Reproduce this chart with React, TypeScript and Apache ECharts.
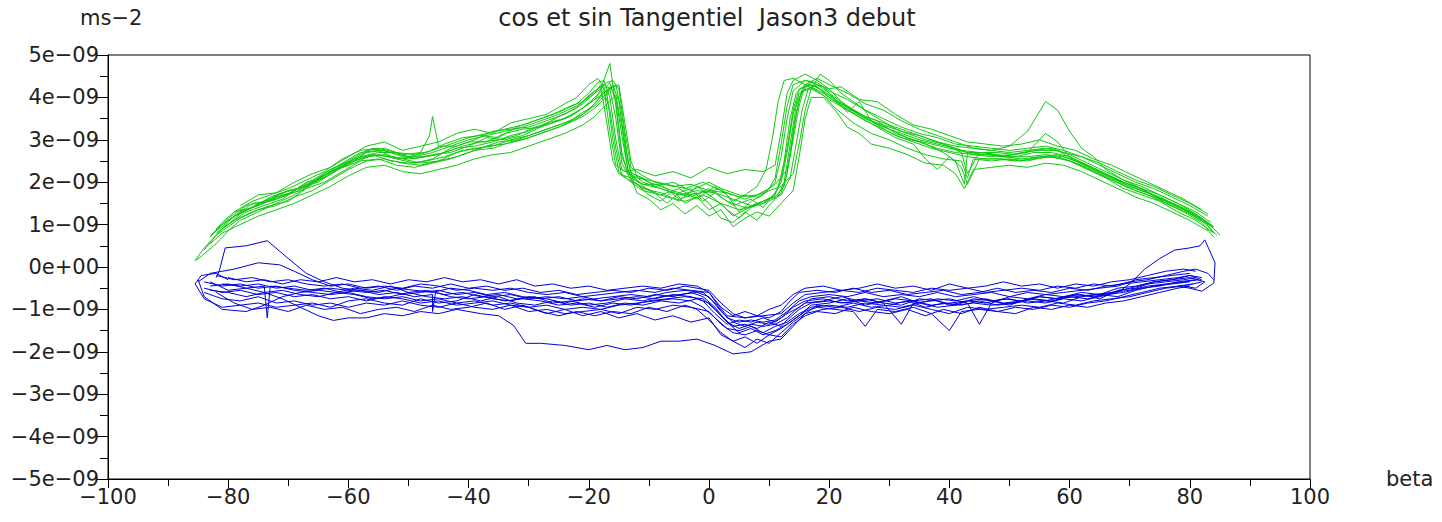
import React, { useEffect, useRef } from "react";
import * as echarts from "echarts";

// values in units of 1e-09 m/s^2, beta in degrees
const X_TICKS = [-100, -80, -60, -40, -20, 0, 20, 40, 60, 80, 100];
const Y_TICKS = [-5, -4, -3, -2, -1, 0, 1, 2, 3, 4, 5];
const TITLE = "cos et sin Tangentiel  Jason3 debut";
const Y_UNIT = "ms\u22122";
const X_NAME = "beta";

const g1 = [[-83,0.7],[-81,1.05],[-79,1.3],[-76,1.4],[-73,1.65],[-70,1.8],[-67,1.9],[-64,2.2],[-61,2.45],[-58,2.7],[-55,2.75],[-52,2.55],[-49,2.45],[-46,2.55],[-43,2.8],[-40,2.95],[-37,2.95],[-34,3.15],[-31,3.25],[-28,3.3],[-25,3.55],[-22,3.75],[-20,4.05],[-18,4.25],[-17,3.4],[-16,2.5],[-15,2.2],[-13,2.1],[-11,1.95],[-8,1.85],[-5,1.7],[-2,1.8],[1,1.75],[4,1.6],[7,1.45],[9,1.55],[11,1.7],[12,2.1],[13,2.8],[14,3.7],[15,4.2],[17,4.3],[19,4.15],[22,3.85],[25,3.6],[28,3.45],[31,3.15],[34,3.0],[37,2.9],[40,2.8],[43,2.7],[46,2.7],[49,2.6],[52,2.7],[55,2.75],[58,2.75],[61,2.5],[64,2.3],[67,2.1],[70,1.9],[73,1.75],[76,1.55],[79,1.35],[82,1.15],[84,0.8]];
const g2 = [[-80,1.05],[-82,0.75],[-84,0.45],[-85.5,0.15],[-84.5,0.25],[-82,0.55],[-80,0.85],[-78,1.1],[-75,1.3],[-72,1.5],[-69,1.7],[-66,1.95],[-63,2.2],[-60,2.45],[-57,2.6],[-54,2.65],[-51,2.55],[-48,2.45],[-45,2.5],[-42,2.7],[-39,2.8],[-36,2.85],[-33,3.0],[-30,3.1],[-27,3.25],[-24,3.4],[-21,3.6],[-19,3.85],[-17.5,4.1],[-16.5,4.25],[-15.5,4.0],[-14.5,3.1],[-13.5,2.3],[-11,2.0],[-9,1.9],[-6,1.75],[-3,1.65],[0,1.85],[3,1.55],[6,1.4],[9,1.5],[10.5,1.65],[11.5,1.85],[12.5,2.5],[13.5,3.5],[14.5,4.1],[16,4.3],[18,4.25],[20,4.0],[23,3.75],[26,3.5],[29,3.3],[32,3.15],[35,3.0],[38,2.9],[41,2.8],[44,2.65],[47,2.65],[50,2.6],[53,2.6],[56,2.65],[59,2.6],[62,2.45],[65,2.25],[68,2.05],[71,1.9],[74,1.7],[77,1.5],[80,1.3],[83,1.05],[85,0.75]];
const g3 = [[-82,0.85],[-80,1.15],[-77,1.45],[-74,1.55],[-71,1.75],[-68,1.85],[-65,2.1],[-62,2.3],[-59,2.55],[-56,2.8],[-53,2.7],[-50,2.6],[-47,2.7],[-44,2.9],[-41,3.05],[-38,3.1],[-35,3.05],[-32,3.3],[-29,3.45],[-26,3.6],[-23,3.8],[-21,3.9],[-19,4.15],[-17,4.35],[-16,4.4],[-15,4.2],[-14,3.2],[-13,2.35],[-11,2.15],[-9,2.0],[-6,1.9],[-3,1.95],[0,1.8],[3,1.75],[6,1.6],[9,1.75],[11,1.95],[13,2.3],[14,3.0],[15,3.8],[16,4.3],[18,4.45],[20,4.3],[23,4.1],[26,3.85],[29,3.7],[32,3.45],[35,3.25],[38,3.1],[41,2.95],[44,2.8],[47,2.75],[50,2.7],[53,2.75],[56,2.8],[59,2.7],[62,2.6],[65,2.4],[68,2.2],[71,2.0],[74,1.85],[77,1.65],[80,1.45],[83,1.2]];
const g4 = [[-81,0.9],[-79,1.1],[-76,1.3],[-73,1.45],[-70,1.55],[-67,1.85],[-64,2.0],[-61,2.25],[-58,2.5],[-55,2.55],[-52,2.4],[-49,2.35],[-46,2.45],[-43,2.55],[-40,2.7],[-37,2.85],[-34,2.9],[-31,3.0],[-28,3.15],[-25,3.3],[-22,3.5],[-20,3.7],[-18.5,3.95],[-17.5,4.15],[-16.5,3.7],[-15.5,2.8],[-14.5,2.15],[-12,1.95],[-10,1.7],[-8,1.55],[-6,1.8],[-4,1.5],[-2,1.65],[0,1.35],[2,1.5],[4,1.2],[6,1.35],[8,1.5],[10,1.6],[11.5,1.7],[12.5,2.0],[13.5,2.9],[14.5,3.8],[15.5,4.15],[17,4.2],[19,4.05],[21,3.75],[24,3.4],[27,3.15],[30,3.0],[33,2.8],[36,2.65],[39,2.55],[42,2.5],[43,2.1],[44,2.55],[47,2.5],[50,2.55],[53,2.5],[56,2.6],[59,2.55],[62,2.4],[65,2.2],[68,2.0],[71,1.8],[74,1.65],[77,1.45],[80,1.25],[83,1.0]];
const g5 = [[-82,0.8],[-80,1.0],[-78,1.25],[-75,1.5],[-72,1.6],[-69,1.8],[-66,2.05],[-63,2.3],[-60,2.5],[-57,2.75],[-54,2.8],[-51,2.65],[-48,2.7],[-46.5,3.1],[-46,3.55],[-45.5,3.2],[-45,2.85],[-42,2.85],[-39,3.0],[-36,3.2],[-33,3.25],[-30,3.3],[-27,3.45],[-24,3.6],[-21,3.85],[-19,4.1],[-18,4.3],[-17,4.1],[-16,3.0],[-15,2.25],[-13,2.0],[-11,1.8],[-8,1.7],[-5,1.85],[-2,1.6],[1,1.9],[3,1.7],[5,1.3],[7,1.55],[9,1.7],[11,2.0],[12,2.6],[13,3.5],[14,4.15],[16,4.4],[18,4.3],[20,4.1],[23,3.8],[26,3.55],[29,3.4],[32,3.2],[35,3.1],[38,2.95],[41,2.85],[44,2.8],[47,2.75],[50,2.85],[53,3.2],[56,3.9],[58,3.7],[60,3.2],[62,2.8],[64,2.6],[66,2.3],[69,2.05],[72,1.85],[75,1.7],[78,1.5],[81,1.25],[84,0.95]];
const g6 = [[-80,1.1],[-77,1.35],[-74,1.5],[-71,1.7],[-68,1.8],[-65,2.05],[-62,2.35],[-59,2.55],[-56,2.65],[-53,2.6],[-50,2.55],[-47,2.6],[-44,2.7],[-41,2.85],[-38,2.95],[-35,3.0],[-32,3.1],[-29,3.3],[-26,3.4],[-23,3.55],[-21,3.75],[-19,4.0],[-17.5,4.2],[-16.5,4.35],[-15.5,3.9],[-14.5,2.7],[-13.5,2.2],[-11,1.95],[-8,1.95],[-5,1.6],[-2,1.75],[0,1.5],[2,1.15],[4,1.05],[6,1.3],[8,1.1],[10,1.45],[12,1.75],[13,2.2],[14,3.2],[15,4.0],[16.5,4.3],[18,4.25],[21,3.95],[24,3.7],[27,3.45],[30,3.25],[33,3.05],[36,2.9],[39,2.7],[41,2.5],[42.5,1.95],[43,2.7],[46,2.65],[49,2.6],[52,2.55],[55,2.6],[58,2.65],[61,2.5],[64,2.3],[67,2.1],[70,1.9],[73,1.75],[76,1.55],[79,1.35],[82,1.1],[84.5,0.75]];
const g7 = [[-83,0.75],[-81,0.95],[-79,1.2],[-76,1.5],[-73,1.55],[-70,1.7],[-67,2.0],[-64,2.1],[-61,2.35],[-58,2.6],[-55,2.7],[-52,2.7],[-49,2.55],[-46,2.65],[-43,2.7],[-40,2.85],[-37,3.05],[-34,3.0],[-31,3.1],[-28,3.3],[-25,3.45],[-22,3.65],[-20,3.85],[-18,4.05],[-16.5,4.2],[-15,4.3],[-14,3.4],[-13,2.5],[-12,2.15],[-10,2.0],[-7,1.85],[-4,1.7],[-1,1.75],[2,1.85],[5,1.7],[8,1.65],[10,1.8],[12,1.9],[14,2.2],[15,2.9],[16,3.7],[17,4.2],[18.5,4.55],[20,4.4],[22,4.1],[24,3.9],[27,3.6],[30,3.35],[33,3.2],[36,3.05],[39,2.9],[42,2.75],[45,2.7],[48,2.7],[51,2.65],[54,2.75],[57,2.8],[60,2.65],[63,2.45],[66,2.25],[69,2.05],[72,1.9],[75,1.7],[78,1.5],[81,1.3],[83.5,1.05]];
const g8 = [[-82,0.9],[-79,1.2],[-76,1.4],[-73,1.6],[-70,1.8],[-67,1.9],[-64,2.15],[-61,2.4],[-58,2.55],[-55,2.65],[-52,2.55],[-49,2.6],[-46,2.7],[-43,2.85],[-40,3.0],[-37,3.1],[-34,3.2],[-31,3.3],[-28,3.45],[-25,3.6],[-22,3.8],[-20,4.0],[-18,4.2],[-16.5,4.8],[-15.5,3.8],[-14.5,2.6],[-13.5,2.25],[-11,2.1],[-9,1.9],[-6,2.0],[-3,1.8],[0,2.0],[2,1.85],[4,1.55],[6,1.7],[8,1.9],[9.5,2.3],[10.5,3.0],[11.5,3.9],[12.5,4.4],[14,4.45],[16,4.3],[18,4.15],[20,3.95],[23,3.7],[26,3.45],[29,3.25],[32,3.05],[35,2.95],[38,2.8],[41,2.7],[44,2.65],[47,2.6],[50,2.65],[53,2.7],[56,3.15],[58,2.95],[60,2.6],[63,2.4],[66,2.2],[69,2.0],[72,1.8],[75,1.65],[78,1.45],[81,1.25],[84,0.9]];
const g9 = [[-81,1.0],[-78,1.3],[-75,1.45],[-72,1.65],[-69,1.75],[-66,2.0],[-63,2.25],[-60,2.4],[-57,2.7],[-54,2.75],[-51,2.6],[-48,2.6],[-45,2.65],[-42,2.8],[-39,2.85],[-36,2.95],[-33,3.1],[-30,3.2],[-27,3.4],[-24,3.5],[-21,3.75],[-19,3.95],[-17.5,4.3],[-16.5,4.2],[-15.5,3.5],[-14.5,2.45],[-13,2.05],[-11,1.85],[-8,1.75],[-5,1.55],[-2,1.9],[1,1.6],[3,1.35],[5,1.15],[7,1.4],[9,1.55],[11,1.65],[12.5,1.9],[13.5,2.6],[14.5,3.6],[15.5,4.2],[17,4.35],[19,4.25],[21,3.95],[23,3.65],[25,3.9],[27,3.45],[30,3.3],[33,3.15],[36,3.0],[39,2.9],[42,2.7],[43,2.2],[45,2.7],[48,2.65],[51,2.6],[54,2.7],[57,2.7],[60,2.6],[63,2.4],[66,2.2],[69,2.0],[72,1.85],[75,1.6],[78,1.45],[81,1.2],[84,0.95]];
const g10 = [[-80,1.0],[-77,1.3],[-74,1.45],[-71,1.6],[-68,1.9],[-65,2.0],[-62,2.3],[-59,2.45],[-56,2.65],[-53,2.5],[-50,2.45],[-47,2.5],[-44,2.6],[-41,2.75],[-38,2.8],[-35,2.95],[-32,3.0],[-29,3.15],[-26,3.3],[-23,3.45],[-21,3.65],[-19,3.8],[-17,4.1],[-16,4.3],[-15,3.9],[-14,2.9],[-13,2.2],[-11,1.9],[-9,1.75],[-7,1.5],[-5,1.75],[-3,1.85],[-1,1.55],[1,1.75],[4,1.45],[7,1.6],[9,1.4],[11,1.75],[12,2.0],[13,2.7],[14,3.6],[15,4.1],[17,4.25],[19,4.1],[22,3.8],[25,3.55],[28,3.3],[31,3.05],[34,2.9],[36,2.55],[38,2.3],[40,2.6],[42,2.35],[43,1.95],[45,2.55],[48,2.55],[51,2.5],[54,2.55],[57,2.6],[60,2.5],[63,2.3],[66,2.1],[69,1.85],[72,1.7],[75,1.55],[78,1.3],[81,1.1],[84,0.8]];
const g11 = [[-79,1.3],[-76,1.55],[-73,1.7],[-70,1.85],[-67,2.05],[-64,2.25],[-61,2.55],[-58,2.75],[-55,2.8],[-52,2.7],[-49,2.65],[-46,2.75],[-43,2.9],[-40,3.05],[-37,3.15],[-34,3.25],[-31,3.35],[-28,3.5],[-25,3.65],[-22,3.85],[-20,4.1],[-18.5,4.35],[-17.5,4.4],[-16.5,4.0],[-15.5,3.0],[-14.5,2.3],[-12,2.1],[-10,2.05],[-7,1.95],[-4,1.85],[-1,2.0],[2,1.8],[5,1.65],[8,1.7],[10,1.85],[11,2.1],[12,2.9],[13,3.8],[14,4.3],[16,4.4],[18,4.35],[20,4.15],[23,3.95],[26,3.7],[29,3.5],[32,3.3],[35,3.15],[38,3.05],[41,2.9],[44,2.85],[47,2.8],[50,2.75],[53,2.8],[56,2.85],[59,2.75],[62,2.6],[65,2.45],[68,2.25],[71,2.05],[74,1.9],[77,1.7],[80,1.5],[83,1.25]];
const g12 = [[-84,0.4],[-82,0.75],[-80,0.95],[-78,1.15],[-75,1.35],[-72,1.45],[-69,1.65],[-66,1.8],[-63,2.05],[-60,2.3],[-57,2.5],[-54,2.55],[-51,2.45],[-48,2.4],[-45,2.5],[-42,2.6],[-39,2.75],[-36,2.8],[-33,2.95],[-30,3.05],[-27,3.2],[-24,3.35],[-21,3.55],[-19,3.75],[-17.5,3.95],[-16.5,4.2],[-15.5,4.3],[-14.5,3.6],[-13.5,2.5],[-12.5,2.0],[-10,1.8],[-7,1.65],[-4,1.55],[-1,1.7],[2,1.5],[5,1.35],[8,1.45],[10,1.55],[12,1.7],[13.5,2.1],[14.5,2.9],[15.5,3.7],[16.5,4.2],[18,4.3],[20,4.2],[22,3.9],[25,3.6],[28,3.35],[31,3.1],[34,2.95],[37,2.8],[40,2.7],[43,2.6],[46,2.55],[49,2.55],[52,2.5],[55,2.6],[58,2.6],[61,2.45],[64,2.25],[67,2.05],[70,1.85],[73,1.7],[76,1.5],[79,1.3],[82,1.05],[84,0.7]];
const g13 = [[-78,1.45],[-75,1.7],[-72,1.75],[-69,2.0],[-66,2.2],[-63,2.35],[-60,2.6],[-57,2.85],[-54,2.95],[-51,2.75],[-48,2.85],[-45,2.95],[-42,3.15],[-39,3.25],[-36,3.15],[-33,3.4],[-30,3.5],[-27,3.6],[-24,3.85],[-22,4.0],[-20,4.3],[-18.5,4.45],[-17.5,4.25],[-16.5,3.2],[-15.5,2.4],[-14,2.25],[-12,2.3],[-9,2.15],[-6,2.25],[-3,2.1],[0,2.35],[3,2.2],[6,2.3],[9,2.25],[11,2.4],[12,3.2],[13,4.1],[14,4.4],[16,4.55],[18,4.4],[20,4.2],[22,4.25],[25,3.95],[28,3.9],[31,3.6],[34,3.35],[37,3.25],[40,3.1],[43,2.95],[46,2.9],[49,2.85],[52,2.9],[55,3.0],[58,2.85],[61,2.75],[64,2.55],[67,2.4],[70,2.2],[73,2.0],[76,1.8],[79,1.6],[82,1.35]];
const g14 = [[-83,0.55],[-81,0.8],[-78,1.0],[-75,1.2],[-72,1.35],[-69,1.5],[-66,1.7],[-63,1.9],[-60,2.15],[-57,2.35],[-54,2.4],[-51,2.25],[-48,2.2],[-45,2.3],[-42,2.4],[-39,2.55],[-36,2.65],[-33,2.7],[-30,2.85],[-27,3.0],[-24,3.15],[-21,3.35],[-19,3.55],[-17,3.85],[-15.5,4.05],[-14.5,3.3],[-13.5,2.3],[-12,1.75],[-10,1.6],[-8,1.35],[-6,1.5],[-4,1.25],[-2,1.45],[0,1.2],[2,1.35],[4,0.95],[6,1.15],[8,1.3],[10,1.2],[12,1.5],[14,1.8],[15,2.6],[16,3.5],[17,4.0],[19,4.0],[21,3.7],[23,3.3],[25,3.15],[27,2.9],[30,2.8],[33,2.65],[36,2.45],[39,2.4],[41,2.2],[42.5,1.85],[44,2.3],[47,2.35],[50,2.4],[53,2.35],[56,2.45],[59,2.4],[62,2.25],[65,2.05],[68,1.85],[71,1.65],[74,1.5],[77,1.3],[80,1.1],[83,0.85]];

const b1 = [[-85,-0.3],[-84,-0.7],[-81,-1.0],[-77,-1.05],[-74,-0.9],[-71,-0.7],[-68,-0.6],[-65,-0.55],[-62,-0.6],[-59,-0.5],[-56,-0.55],[-53,-0.45],[-50,-0.6],[-47,-0.55],[-44,-0.65],[-41,-0.6],[-38,-0.7],[-35,-0.65],[-32,-0.75],[-29,-0.7],[-26,-0.85],[-23,-0.8],[-20,-0.9],[-17,-0.85],[-14,-0.75],[-11,-0.8],[-8,-0.7],[-5,-0.65],[-2,-0.6],[0,-0.7],[2,-1.05],[4,-1.3],[6,-1.4],[8,-1.3],[10,-1.35],[12,-1.2],[14,-0.95],[16,-0.8],[19,-0.75],[22,-0.85],[25,-0.8],[28,-0.75],[31,-0.85],[34,-0.8],[37,-0.9],[40,-0.85],[43,-0.8],[46,-0.75],[49,-0.85],[52,-0.8],[55,-0.7],[58,-0.75],[61,-0.7],[64,-0.65],[67,-0.6],[70,-0.5],[73,-0.4],[76,-0.35],[79,-0.3],[81,-0.25]];
const b2 = [[-82,-0.25],[-81.5,-0.1],[-80.5,0.45],[-77,0.5],[-73.5,0.62],[-70,0.2],[-67,-0.15],[-64,-0.35],[-61,-0.5],[-58,-0.55],[-55,-0.6],[-52,-0.5],[-49,-0.55],[-46,-0.6],[-43,-0.5],[-40,-0.55],[-37,-0.65],[-34,-0.6],[-31,-0.7],[-28,-0.75],[-25,-0.7],[-22,-0.8],[-19,-0.75],[-16,-0.7],[-13,-0.65],[-10,-0.7],[-7,-0.6],[-4,-0.55],[-1,-0.6],[1,-0.85],[3,-1.2],[5,-1.3],[7,-1.25],[9,-1.3],[11,-1.25],[13,-1.05],[15,-0.8],[17,-0.7],[20,-0.65],[23,-0.7],[26,-0.6],[29,-0.7],[32,-0.65],[35,-0.7],[38,-0.6],[41,-0.7],[44,-0.65],[47,-0.6],[50,-0.7],[53,-0.6],[56,-0.65],[59,-0.6],[62,-0.55],[65,-0.5],[68,-0.45],[71,-0.3],[74,-0.25],[77,-0.2],[80,-0.15]];
const b3 = [[-83,-0.35],[-80,-0.55],[-77,-0.5],[-74,-0.6],[-71,-0.75],[-68,-0.95],[-65,-1.15],[-62.5,-1.26],[-60,-1.2],[-57,-1.2],[-54,-1.1],[-51,-1.15],[-48,-1.05],[-45,-1.1],[-42,-1.0],[-38,-1.1],[-35,-1.15],[-32.5,-1.38],[-30.5,-1.8],[-28,-1.8],[-24,-1.85],[-20,-1.95],[-17,-1.85],[-14,-1.95],[-11,-1.9],[-8,-1.75],[-5,-1.75],[-2,-1.7],[1,-1.85],[4,-2.05],[7,-2.0],[10,-1.75],[12,-1.7],[14,-1.4],[16,-1.1],[19,-1.0],[22,-0.95],[25,-1.05],[28,-0.95],[31,-1.0],[34,-0.9],[37,-1.0],[40,-1.1],[43,-0.95],[46,-1.0],[49,-0.95],[52,-0.9],[55,-0.95],[58,-0.85],[61,-0.9],[64,-0.8],[67,-0.75],[70,-0.7],[73,-0.6],[76,-0.5],[79,-0.45],[82,-0.35]];
const b4 = [[-84,-0.5],[-81,-0.6],[-78,-0.55],[-75,-0.65],[-72,-0.6],[-69,-0.7],[-66,-0.65],[-63,-0.75],[-60,-0.7],[-57,-0.8],[-54,-0.7],[-51,-0.75],[-48,-0.85],[-45,-0.8],[-42,-0.9],[-39,-0.85],[-36,-0.8],[-33,-0.9],[-30,-0.95],[-27,-0.9],[-24,-1.0],[-21,-0.95],[-18,-1.0],[-15,-0.9],[-12,-0.85],[-9,-0.8],[-6,-0.75],[-3,-0.8],[-1,-0.95],[1,-1.2],[3,-1.45],[5,-1.5],[7,-1.4],[9,-1.55],[11,-1.4],[13,-1.3],[15,-1.1],[17,-0.95],[20,-0.9],[23,-0.95],[26,-0.85],[29,-0.9],[32,-0.95],[35,-0.85],[38,-0.95],[41,-0.9],[44,-0.85],[47,-0.9],[50,-0.85],[53,-0.8],[56,-0.85],[59,-0.75],[62,-0.8],[65,-0.7],[68,-0.6],[70,-0.4],[72.5,-0.05],[75,0.2],[77.5,0.4],[80,0.45],[81.7,0.5],[82.5,0.64],[84.2,0.1],[84,-0.38],[82,-0.57],[80,-0.5],[78,-0.45]];
const b5 = [[-85,-0.35],[-83,-0.15],[-79,-0.05],[-75,0.1],[-71.4,0.05],[-69,-0.1],[-66,-0.3],[-63,-0.45],[-60,-0.4],[-57,-0.5],[-54,-0.45],[-51,-0.5],[-48,-0.4],[-45,-0.45],[-42,-0.55],[-39,-0.5],[-36,-0.55],[-33,-0.5],[-30,-0.6],[-27,-0.65],[-24,-0.6],[-21,-0.7],[-18,-0.65],[-15,-0.6],[-12,-0.55],[-9,-0.6],[-6,-0.5],[-3,-0.55],[0,-0.6],[1.5,-0.9],[3,-1.15],[6,-1.2],[9,-1.15],[12,-1.1],[14,-0.85],[16,-0.65],[19,-0.6],[22,-0.55],[25,-0.6],[28,-0.5],[31,-0.55],[34,-0.6],[37,-0.5],[40,-0.55],[43,-0.5],[46,-0.6],[49,-0.55],[52,-0.5],[55,-0.55],[58,-0.45],[61,-0.5],[64,-0.4],[67,-0.45],[70,-0.35],[73,-0.3],[76,-0.2],[79,-0.1],[81,-0.05],[83,-0.15],[84,-0.3]];
const b6 = [[-83,-0.45],[-80,-0.4],[-77,-0.5],[-74,-0.45],[-73.5,-1.2],[-73,-0.45],[-70,-0.5],[-67,-0.55],[-64,-0.5],[-61,-0.6],[-58,-0.55],[-55,-0.65],[-52,-0.6],[-49,-0.7],[-46,-0.65],[-46,-1.05],[-45.5,-0.6],[-43,-0.7],[-40,-0.75],[-37,-0.7],[-34,-0.8],[-31,-0.75],[-28,-0.8],[-25,-0.9],[-22,-0.85],[-19,-0.95],[-16,-0.85],[-13,-0.9],[-10,-0.8],[-7,-0.75],[-4,-0.7],[-1,-0.75],[1,-1.0],[3,-1.3],[5,-1.45],[7,-1.35],[9,-1.4],[11,-1.35],[13,-1.2],[14.5,-1.0],[16,-0.85],[19,-0.8],[22,-0.7],[25,-0.8],[28,-0.85],[31,-0.75],[34,-0.8],[37,-0.75],[40,-0.9],[43,-0.8],[46,-0.85],[49,-0.75],[52,-0.8],[55,-0.7],[58,-0.75],[61,-0.65],[64,-0.7],[67,-0.6],[70,-0.55],[73,-0.45],[76,-0.4],[79,-0.35],[81.5,-0.3]];
const b7 = [[-84,-0.6],[-81,-0.75],[-78,-0.8],[-75,-0.7],[-72,-0.85],[-69,-0.8],[-66,-0.9],[-63,-0.85],[-60,-0.95],[-57,-0.85],[-54,-0.9],[-51,-0.8],[-48,-0.9],[-45,-0.95],[-42,-0.85],[-39,-0.95],[-36,-1.0],[-33,-0.9],[-30,-1.05],[-27,-1.0],[-24,-1.1],[-21,-1.05],[-18,-1.0],[-15,-1.1],[-12,-0.95],[-9,-1.0],[-6,-0.9],[-3,-0.95],[0,-1.05],[2,-1.35],[4,-1.55],[6,-1.6],[8,-1.5],[10,-1.6],[12,-1.45],[14,-1.25],[16,-1.05],[18,-0.95],[21,-1.0],[24,-1.05],[26,-1.4],[28,-1.0],[31,-1.05],[34,-0.95],[37,-1.1],[40,-1.5],[42,-1.05],[45,-1.0],[48,-1.05],[51,-0.95],[54,-1.0],[57,-0.9],[60,-0.95],[63,-0.85],[66,-0.8],[69,-0.7],[72,-0.6],[75,-0.5],[78,-0.45],[80.5,-0.4]];
const b8 = [[-82,-0.2],[-79,-0.3],[-76,-0.25],[-73,-0.35],[-70,-0.3],[-67,-0.4],[-64,-0.45],[-61,-0.4],[-58,-0.5],[-55,-0.45],[-52,-0.55],[-49,-0.45],[-46,-0.5],[-43,-0.4],[-40,-0.5],[-37,-0.45],[-34,-0.55],[-31,-0.5],[-28,-0.6],[-25,-0.55],[-22,-0.65],[-19,-0.6],[-16,-0.55],[-13,-0.6],[-10,-0.5],[-7,-0.55],[-4,-0.45],[-2,-0.5],[0,-0.55],[2,-0.85],[4,-1.1],[6,-1.2],[8,-1.15],[10,-1.2],[12,-1.05],[13.5,-0.8],[15,-0.6],[18,-0.55],[21,-0.6],[24,-0.5],[27,-0.6],[30,-0.55],[33,-0.65],[36,-0.6],[39,-0.55],[42,-0.65],[45,-0.6],[48,-0.5],[51,-0.6],[54,-0.55],[57,-0.6],[60,-0.5],[63,-0.55],[66,-0.45],[69,-0.4],[72,-0.35],[75,-0.3],[78,-0.25],[80,-0.2],[82,-0.3]];
const b9 = [[-80,-0.3],[-82,-0.15],[-84.5,-0.2],[-85.5,-0.4],[-84,-0.75],[-81,-0.95],[-78,-0.9],[-75,-0.85],[-72,-0.95],[-69,-0.9],[-66,-0.85],[-63,-0.95],[-60,-0.8],[-57,-0.75],[-54,-0.85],[-51,-0.9],[-48,-0.75],[-45,-0.85],[-42,-0.8],[-39,-0.65],[-36,-0.75],[-33,-0.8],[-30,-0.7],[-27,-0.75],[-24,-0.85],[-21,-0.75],[-18,-0.8],[-15,-0.7],[-12,-0.75],[-9,-0.65],[-6,-0.7],[-3,-0.6],[-1,-0.7],[1,-0.95],[3,-1.3],[5,-1.55],[7,-1.45],[9,-1.6],[11,-1.5],[13,-1.35],[15,-1.15],[17,-0.9],[20,-0.85],[23,-0.75],[26,-0.9],[29,-0.8],[32,-0.7],[35,-0.85],[38,-0.75],[41,-0.8],[44,-0.7],[47,-0.8],[50,-0.75],[53,-0.85],[56,-0.8],[59,-0.7],[62,-0.65],[65,-0.75],[68,-0.55],[71,-0.5],[74,-0.35],[77,-0.3],[80,-0.25],[82.5,-0.35],[81,-0.5],[79,-0.45]];
const b10 = [[-83,-0.55],[-80,-0.6],[-77,-0.7],[-74,-0.6],[-71,-0.55],[-68,-0.65],[-65,-0.7],[-62,-0.6],[-59,-0.65],[-56,-0.75],[-53,-0.7],[-50,-0.6],[-47,-0.7],[-44,-0.75],[-41,-0.7],[-38,-0.8],[-35,-0.7],[-32,-0.85],[-29,-0.9],[-26,-0.8],[-23,-0.9],[-20,-0.85],[-17,-0.95],[-14,-0.85],[-11,-0.9],[-8,-0.8],[-5,-0.85],[-2,-0.75],[0,-0.85],[2,-1.15],[4,-1.4],[6,-1.35],[8,-1.45],[10,-1.3],[12,-1.4],[13,-1.25],[15,-1.0],[17,-0.85],[20,-0.8],[23,-0.85],[26,-0.75],[29,-0.85],[32,-0.9],[35,-0.75],[38,-0.8],[41,-0.9],[44,-0.75],[47,-0.8],[50,-0.9],[53,-0.75],[56,-0.8],[59,-0.85],[62,-0.7],[65,-0.65],[68,-0.7],[71,-0.55],[74,-0.45],[77,-0.4],[80,-0.35]];
const b11 = [[-81,-0.4],[-78,-0.45],[-75,-0.4],[-72,-0.5],[-69,-0.45],[-66,-0.55],[-63,-0.5],[-60,-0.55],[-57,-0.6],[-54,-0.55],[-51,-0.65],[-48,-0.6],[-45,-0.55],[-42,-0.65],[-39,-0.6],[-36,-0.7],[-33,-0.65],[-30,-0.75],[-27,-0.7],[-24,-0.75],[-21,-0.7],[-18,-0.8],[-15,-0.75],[-12,-0.7],[-9,-0.75],[-6,-0.65],[-3,-0.7],[-1,-0.8],[1,-1.1],[3,-1.35],[5,-1.25],[7,-1.3],[9,-1.2],[11,-1.3],[13,-1.1],[15,-0.95],[17,-0.75],[20,-0.7],[23,-0.8],[26,-0.75],[29,-0.85],[32,-1.35],[34,-0.85],[37,-0.8],[40,-0.75],[43,-0.85],[45,-1.35],[47,-0.85],[50,-0.7],[53,-0.75],[56,-0.65],[59,-0.7],[62,-0.6],[65,-0.65],[68,-0.5],[71,-0.45],[74,-0.35],[77,-0.3],[80,-0.2],[82,-0.25]];
const b12 = [[-84,-0.35],[-81,-0.45],[-78,-0.4],[-75,-0.5],[-72,-0.45],[-69,-0.55],[-66,-0.6],[-63,-0.65],[-60,-0.6],[-57,-0.7],[-54,-0.75],[-51,-0.7],[-48,-0.8],[-45,-0.75],[-42,-0.85],[-39,-0.8],[-36,-0.9],[-33,-0.85],[-30,-0.95],[-27,-1.1],[-24,-1.0],[-21,-1.15],[-18,-1.05],[-15,-1.2],[-12,-1.1],[-9,-1.25],[-6,-1.15],[-3,-1.3],[0,-1.2],[2,-1.6],[4,-1.75],[6,-1.9],[8,-1.7],[10,-1.8],[12,-1.55],[14,-1.3],[16,-1.1],[18,-0.9],[21,-0.95],[24,-0.85],[27,-0.95],[30,-0.9],[33,-0.8],[36,-0.95],[39,-0.85],[42,-0.9],[45,-0.8],[48,-0.9],[51,-0.85],[54,-0.75],[57,-0.8],[60,-0.7],[63,-0.75],[66,-0.65],[69,-0.6],[72,-0.5],[75,-0.45],[78,-0.35],[81,-0.3]];
const b13 = [[-80,-0.25],[-77,-0.35],[-74,-0.3],[-71,-0.4],[-68,-0.3],[-65,-0.35],[-62,-0.25],[-59,-0.35],[-56,-0.3],[-53,-0.4],[-50,-0.3],[-47,-0.35],[-44,-0.25],[-41,-0.35],[-38,-0.3],[-35,-0.4],[-32,-0.3],[-29,-0.45],[-26,-0.4],[-23,-0.5],[-20,-0.45],[-17,-0.55],[-14,-0.5],[-11,-0.45],[-8,-0.5],[-5,-0.4],[-2,-0.45],[0,-0.6],[2,-0.95],[4,-1.15],[6,-1.05],[8,-1.15],[10,-1.0],[12,-0.9],[14,-0.65],[16,-0.5],[19,-0.45],[22,-0.55],[25,-0.5],[28,-0.4],[31,-0.5],[34,-0.45],[37,-0.55],[40,-0.4],[43,-0.5],[46,-0.45],[49,-0.35],[52,-0.45],[55,-0.4],[58,-0.5],[61,-0.4],[64,-0.45],[67,-0.35],[70,-0.3],[73,-0.2],[76,-0.1],[79,-0.05],[81,-0.1]];
const b14 = [[-82,-0.6],[-79,-0.85],[-76,-1.0],[-73,-0.95],[-70,-1.05],[-67,-0.9],[-64,-1.0],[-61,-0.95],[-58,-1.1],[-55,-1.0],[-52,-0.95],[-49,-1.05],[-46,-0.9],[-43,-1.0],[-40,-0.95],[-37,-0.85],[-34,-1.0],[-31,-0.9],[-28,-1.05],[-25,-1.15],[-22,-1.05],[-19,-1.15],[-16,-1.05],[-13,-1.1],[-10,-0.95],[-7,-1.05],[-4,-0.9],[-2,-1.0],[0,-1.25],[2,-1.55],[4,-1.75],[6,-1.65],[8,-1.8],[10,-1.6],[12,-1.65],[14,-1.35],[16,-1.15],[18,-1.05],[21,-1.1],[24,-0.95],[27,-1.05],[30,-1.1],[33,-1.0],[36,-1.15],[39,-1.0],[42,-1.1],[45,-0.95],[48,-1.05],[51,-1.1],[54,-0.95],[57,-1.0],[60,-0.9],[63,-0.95],[66,-0.85],[69,-0.8],[72,-0.7],[75,-0.6],[78,-0.5],[80,-0.45]];

const GREEN_CURVES = [g1, g2, g3, g4, g5, g6, g7, g8, g9, g10, g11, g12, g13, g14];
const BLUE_CURVES = [b1, b2, b3, b4, b5, b6, b7, b8, b9, b10, b11, b12, b13, b14];

const GREEN = "#10c810";
const BLUE = "#0000dc";
const FONT = "DejaVu Sans, Verdana, sans-serif";
const MINUS = "\u2212";
const TEXT_COLOR = "#222";

function fmtX(v: number) {
  return String(v).replace("-", MINUS);
}
function fmtY(v: number) {
  if (v === 0) return "0e+00";
  return (String(v) + "e-09").split("-").join(MINUS);
}

export default function App() {
  const ref = useRef<HTMLDivElement>(null);
  useEffect(() => {
    if (!ref.current) return;
    const chart = echarts.init(ref.current, undefined, { renderer: "svg" });
    const mk = (c: number[][], color: string, i: number, p: string) => ({
      name: p + (i + 1),
      type: "line",
      data: c,
      showSymbol: false,
      symbol: "none",
      lineStyle: { color, width: 1 },
      itemStyle: { color },
      z: p === "g" ? 3 : 2,
    });
    chart.setOption({
      animation: false,
      backgroundColor: "#ffffff",
      graphic: [
        {
          type: "text",
          x: 707,
          y: 18,
          style: {
            text: TITLE,
            fill: TEXT_COLOR,
            font: "24px " + FONT,
            textAlign: "center",
            textVerticalAlign: "middle",
          },
        },
        {
          type: "text",
          x: 80,
          y: 18,
          style: {
            text: Y_UNIT,
            fill: TEXT_COLOR,
            font: "21px " + FONT,
            textAlign: "left",
            textVerticalAlign: "middle",
          },
        },
      ],
      grid: {
        left: 108,
        right: 132,
        top: 55,
        bottom: 43,
        show: true,
        borderColor: "#000",
        borderWidth: 1,
        backgroundColor: "transparent",
      },
      xAxis: {
        type: "value",
        min: -100,
        max: 100,
        interval: 20,
        name: X_NAME,
        nameLocation: "end",
        nameGap: 76,
        nameTextStyle: { fontFamily: FONT, fontSize: 21, color: TEXT_COLOR, verticalAlign: "middle" },
        axisLine: { show: true, onZero: false, lineStyle: { color: "#000", width: 1 } },
        axisTick: { show: true, inside: false, length: 9, lineStyle: { color: "#000" } },
        minorTick: { show: true, splitNumber: 2, length: 7, lineStyle: { color: "#000" } },
        splitLine: { show: false },
        axisLabel: {
          fontFamily: FONT,
          fontSize: 21,
          color: TEXT_COLOR,
          margin: 7,
          formatter: (v: number) => (X_TICKS.includes(v) ? fmtX(v) : ""),
        },
      },
      yAxis: {
        type: "value",
        min: -5,
        max: 5,
        interval: 1,
        axisLine: { show: true, onZero: false, lineStyle: { color: "#000", width: 1 } },
        axisTick: { show: true, inside: false, length: 12, lineStyle: { color: "#000" } },
        minorTick: { show: true, splitNumber: 2, length: 8, lineStyle: { color: "#000" } },
        splitLine: { show: false },
        axisLabel: {
          fontFamily: FONT,
          fontSize: 21,
          color: TEXT_COLOR,
          margin: 9,
          formatter: (v: number) => (Y_TICKS.includes(v) ? fmtY(v) : ""),
        },
      },
      series: [
        ...BLUE_CURVES.map((c, i) => mk(c, BLUE, i, "b")),
        ...GREEN_CURVES.map((c, i) => mk(c, GREEN, i, "g")),
      ],
    });
    return () => chart.dispose();
  }, []);
  return (
    <div
      ref={ref}
      style={{ position: "fixed", left: 0, top: 0, width: 1442, height: 522, background: "#fff" }}
    />
  );
}
